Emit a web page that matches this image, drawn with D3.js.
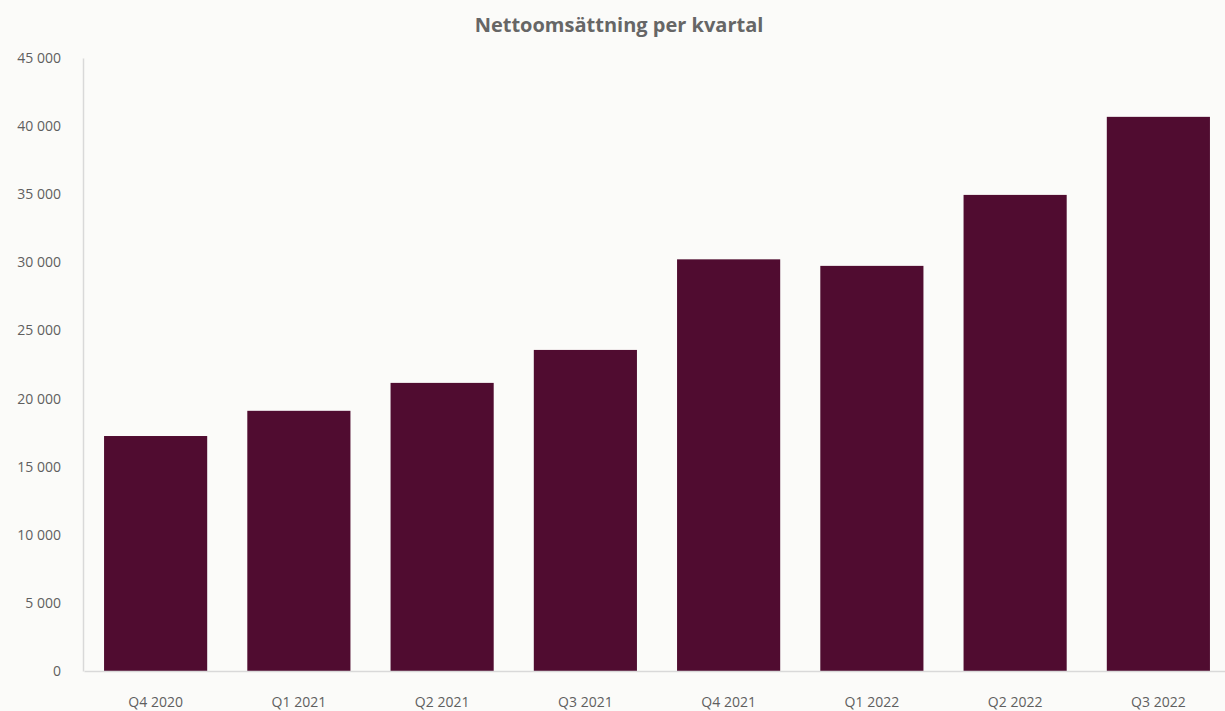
<!DOCTYPE html>
<html lang="sv">
<head>
    <meta charset="UTF-8">
    <script src="https://d3js.org/d3.v7.min.js"></script>
    <title>Nettoomsättning per kvartal</title>
    <style>
        body {
            margin: 0;
            background: #fbfbf9;
            font-family: "Open Sans", sans-serif;
        }
        .tick text {
            font-size: 14px;
            fill: #5f5f5f;
        }
    </style>
</head>
<body>
<div id="chart"></div>
<script>
    // data
    var quarters = ["Q4 2020", "Q1 2021", "Q2 2021", "Q3 2021", "Q4 2021", "Q1 2022", "Q2 2022", "Q3 2022"];
    var sales = [17250, 19100, 21150, 23570, 30220, 29740, 34950, 40680];
    var yTicks = [0, 5000, 10000, 15000, 20000, 25000, 30000, 35000, 40000, 45000];

    var W = 1225, H = 711;
    var marginLeft = 83, plotTop = 58, plotBottom = 671;

    var svg = d3.select("#chart")
        .append("svg")
        .attr("width", W)
        .attr("height", H);

    var x = d3.scaleBand()
        .domain(quarters)
        .range([marginLeft + 1, 1230])
        .paddingInner(0.28)
        .paddingOuter(0.14);

    var y = d3.scaleLinear()
        .domain([0, 45000])
        .range([plotBottom, plotTop]);

    var fmt = d3.formatLocale({decimal: ",", thousands: "\u00a0", grouping: [3], currency: ["", " kr"]}).format(",");

    // title
    svg.append("text")
        .attr("x", 619)
        .attr("y", 32)
        .attr("text-anchor", "middle")
        .style("font-size", "20px")
        .style("font-weight", "bold")
        .style("fill", "#666666")
        .text("Nettoomsättning per kvartal");

    // bars
    svg.selectAll("rect.bar")
        .data(sales)
        .enter()
        .append("rect")
        .attr("class", "bar")
        .attr("x", function(d, i) { return x(quarters[i]); })
        .attr("width", x.bandwidth())
        .attr("y", function(d) { return y(d); })
        .attr("height", function(d) { return plotBottom - y(d); })
        .attr("fill", "#500c30");

    // y axis
    var yAxis = svg.append("g")
        .attr("transform", "translate(" + marginLeft + ",0)")
        .call(d3.axisLeft(y).tickValues(yTicks).tickFormat(fmt).tickSize(0).tickPadding(22));
    yAxis.attr("font-family", "Open Sans").attr("font-size", 14);
    yAxis.select(".domain").attr("stroke", "#d9d9d9").attr("stroke-width", 1.5);

    // x axis
    var xAxis = svg.append("g")
        .attr("transform", "translate(0," + plotBottom + ")")
        .call(d3.axisBottom(x).tickSize(0).tickPadding(26));
    xAxis.attr("font-family", "Open Sans").attr("font-size", 14);
    xAxis.select(".domain").attr("stroke", "#d9d9d9").attr("stroke-width", 1.5);
</script>
</body>
</html>
